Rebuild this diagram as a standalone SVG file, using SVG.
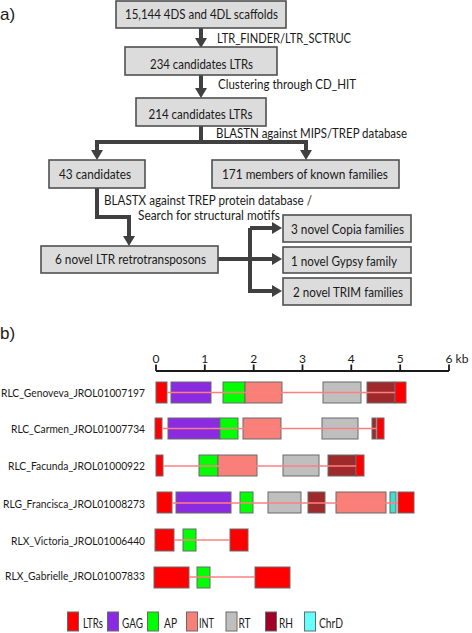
<svg xmlns="http://www.w3.org/2000/svg" width="472" height="633" viewBox="0 0 472 633">
<style>
text{font-family:Lato,"Liberation Sans",sans-serif;fill:#1a1a1a}
.box{fill:#dcdcdc;stroke:#505050;stroke-width:1.6}
.bt{font-size:12.5px;text-anchor:middle;dominant-baseline:central}
.lab{font-size:12.5px;dominant-baseline:central}
.lg{font-size:13px;dominant-baseline:central}
.con{fill:none;stroke:#404040;stroke-width:4;stroke-linejoin:miter}
.hd{font-size:17px;font-family:"Liberation Sans",Arial,sans-serif;dominant-baseline:central}
.rl{font-size:12px;text-anchor:end;dominant-baseline:central}
.tk{font-size:12px;text-anchor:middle;dominant-baseline:central}
.el rect{stroke:#6a6a6a;stroke-width:1}
.ltr{fill:#ff0000}.gag{fill:#8a2be2}.ap{fill:#00ff00}.int{fill:#f88078}.rt{fill:#bfbfbf}.rh{fill:#9e2a2b}.chr{fill:#40e0d0}
.bb{stroke:#ff7f7f;stroke-width:1.4}
</style>
<defs>
<marker id="ah" markerUnits="userSpaceOnUse" markerWidth="10" markerHeight="12" refX="0" refY="6" orient="auto" viewBox="0 0 10 12">
<path d="M0,0 L10,6 L0,12 z" fill="#404040"/>
</marker>
</defs>
<text class="hd" x="0" y="14">a)</text>
<g id="connectors">
<path class="con" d="M201,28 V38" marker-end="url(#ah)"/>
<path class="con" d="M201,75 V88" marker-end="url(#ah)"/>
<path class="con" d="M201,126 V142 H97 V150" marker-end="url(#ah)"/>
<path class="con" d="M201,142 H306 V150" marker-end="url(#ah)"/>
<path class="con" d="M97,188 V217 H129 V236" marker-end="url(#ah)"/>
<path class="con" d="M218,259 H250"/>
<path class="con" d="M250,228 V293"/>
<path class="con" d="M250,228 H272" marker-end="url(#ah)"/>
<path class="con" d="M250,259 H272" marker-end="url(#ah)"/>
<path class="con" d="M250,291 H272" marker-end="url(#ah)"/>
<text class="lab" x="217" y="38" textLength="134" lengthAdjust="spacingAndGlyphs">LTR_FINDER/LTR_SCTRUC</text>
<text class="lab" x="218" y="84" textLength="138" lengthAdjust="spacingAndGlyphs">Clustering through CD_HIT</text>
<text class="lab" x="216" y="133" textLength="191" lengthAdjust="spacingAndGlyphs">BLASTN against MIPS/TREP database</text>
<text class="lab" x="104" y="200" textLength="208" lengthAdjust="spacingAndGlyphs">BLASTX against TREP protein database /</text>
<text class="lab" x="138" y="215" textLength="142" lengthAdjust="spacingAndGlyphs">Search for structural motifs</text>
</g>
<g id="n1"><rect class="box" x="116" y="1" width="170" height="27"/><text class="bt" x="201.5" y="14.5" textLength="153" lengthAdjust="spacingAndGlyphs">15,144 4DS and 4DL scaffolds</text></g>
<g id="n2"><rect class="box" x="125" y="47" width="152" height="28"/><text class="bt" x="201.5" y="64" textLength="103" lengthAdjust="spacingAndGlyphs">234 candidates LTRs</text></g>
<g id="n3"><rect class="box" x="136" y="98" width="130" height="28"/><text class="bt" x="200.5" y="114" textLength="104" lengthAdjust="spacingAndGlyphs">214 candidates LTRs</text></g>
<g id="n4"><rect class="box" x="49" y="160" width="96" height="28"/><text class="bt" x="95" y="174" textLength="72" lengthAdjust="spacingAndGlyphs">43 candidates</text></g>
<g id="n5"><rect class="box" x="212" y="160" width="187" height="28"/><text class="bt" x="305" y="174" textLength="166" lengthAdjust="spacingAndGlyphs">171 members of known families</text></g>
<g id="n6"><rect class="box" x="41" y="246" width="177" height="27"/><text class="bt" x="130.5" y="259.5" textLength="151" lengthAdjust="spacingAndGlyphs">6 novel LTR retrotransposons</text></g>
<g id="n7"><rect class="box" x="283" y="215" width="128" height="27"/><text class="bt" x="347.5" y="229" textLength="113" lengthAdjust="spacingAndGlyphs">3 novel Copia families</text></g>
<g id="n8"><rect class="box" x="283" y="247" width="128" height="26"/><text class="bt" x="344" y="261" textLength="106" lengthAdjust="spacingAndGlyphs">1 novel Gypsy family</text></g>
<g id="n9"><rect class="box" x="283" y="278" width="128" height="27"/><text class="bt" x="348" y="292" textLength="110" lengthAdjust="spacingAndGlyphs">2 novel TRIM families</text></g>

<text class="hd" x="0" y="333">b)</text>
<g id="scale">
<path d="M156,371 H449 M156,364.5 V371 M204.8,364.5 V371 M253.7,364.5 V371 M302.5,364.5 V371 M351.3,364.5 V371 M400.2,364.5 V371 M449,364.5 V371" stroke="#1a1a1a" stroke-width="1.8" fill="none"/>
<text class="tk" x="156" y="358">0</text><text class="tk" x="204.8" y="358">1</text><text class="tk" x="253.7" y="358">2</text><text class="tk" x="302.5" y="358">3</text><text class="tk" x="351.3" y="358">4</text><text class="tk" x="400.2" y="358">5</text><text class="tk" x="449" y="358">6</text>
<text class="tk" x="462" y="358">kb</text>
</g>
<g id="row1" class="el">
<text class="rl" x="145" y="392.5" textLength="144" lengthAdjust="spacingAndGlyphs">RLC_Genoveva_JROL01007197</text>
<rect class="gag" x="171" y="382" width="40" height="21"/>
<rect class="ap" x="223" y="382" width="22" height="21"/>
<rect class="int" x="245" y="382" width="37" height="21"/>
<rect class="rt" x="323" y="382" width="38" height="21"/>
<rect class="rh" x="367" y="382" width="28" height="21"/>
<rect class="ltr" x="156" y="382" width="11" height="21"/>
<rect class="ltr" x="395" y="382" width="11" height="21"/>
<line class="bb" x1="167" y1="392.5" x2="395" y2="392.5"/>
</g>
<g id="row2" class="el">
<text class="rl" x="145" y="428.5" textLength="134" lengthAdjust="spacingAndGlyphs">RLC_Carmen_JROL01007734</text>
<rect class="gag" x="168" y="418" width="52" height="21"/>
<rect class="ap" x="220" y="418" width="18" height="21"/>
<rect class="int" x="243" y="418" width="38" height="21"/>
<rect class="rt" x="322" y="418" width="36" height="21"/>
<rect class="rh" x="372" y="418" width="4" height="21"/>
<rect class="ltr" x="155" y="418" width="7" height="21"/>
<rect class="ltr" x="377" y="418" width="7" height="21"/>
<line class="bb" x1="162" y1="428.5" x2="377" y2="428.5"/>
</g>
<g id="row3" class="el">
<text class="rl" x="145" y="465.5" textLength="137" lengthAdjust="spacingAndGlyphs">RLC_Facunda_JROL01000922</text>
<rect class="ap" x="199" y="455" width="19" height="21"/>
<rect class="int" x="218" y="455" width="39" height="21"/>
<rect class="rt" x="283" y="455" width="36" height="21"/>
<rect class="rh" x="328" y="455" width="28" height="21"/>
<rect class="ltr" x="156" y="455" width="7" height="21"/>
<rect class="ltr" x="356" y="455" width="8" height="21"/>
<line class="bb" x1="163" y1="466" x2="356" y2="466"/>
</g>
<g id="row4" class="el">
<text class="rl" x="145" y="503" textLength="142" lengthAdjust="spacingAndGlyphs">RLG_Francisca_JROL01008273</text>
<rect class="gag" x="176" y="492" width="55" height="21"/>
<rect class="ap" x="240" y="492" width="13" height="21"/>
<rect class="rt" x="268" y="492" width="33" height="21"/>
<rect class="rh" x="308" y="492" width="17" height="21"/>
<rect class="int" x="336" y="492" width="50" height="21"/>
<rect class="chr" x="390" y="492" width="6" height="21"/>
<rect class="ltr" x="157" y="492" width="15" height="21"/>
<rect class="ltr" x="398" y="492" width="16" height="21"/>
<line class="bb" x1="172" y1="503" x2="398" y2="503"/>
</g>
<g id="row5" class="el">
<text class="rl" x="145" y="540" textLength="134" lengthAdjust="spacingAndGlyphs">RLX_Victoria_JROL01006440</text>
<rect class="ap" x="183" y="529" width="13" height="22"/>
<rect class="ltr" x="155" y="529" width="19" height="22"/>
<rect class="ltr" x="230" y="529" width="18" height="22"/>
<line class="bb" x1="174" y1="540" x2="230" y2="540"/>
</g>
<g id="row6" class="el">
<text class="rl" x="145" y="575" textLength="140" lengthAdjust="spacingAndGlyphs">RLX_Gabrielle_JROL01007833</text>
<rect class="ap" x="197" y="567" width="13" height="21"/>
<rect class="ltr" x="154" y="567" width="35" height="21"/>
<rect class="ltr" x="255" y="567" width="35" height="21"/>
<line class="bb" x1="189" y1="577" x2="255" y2="577"/>
</g>
<g id="legend" class="el">
<rect class="ltr" x="67.5" y="612" width="11" height="19"/><text class="lg" x="83" y="623" textLength="20" lengthAdjust="spacingAndGlyphs">LTRs</text>
<rect class="gag" x="107.5" y="612" width="11" height="19"/><text class="lg" x="122" y="623" textLength="21" lengthAdjust="spacingAndGlyphs">GAG</text>
<rect class="ap" x="147.5" y="612" width="11" height="19"/><text class="lg" x="164" y="623" textLength="13" lengthAdjust="spacingAndGlyphs">AP</text>
<rect class="int" x="186.5" y="612" width="11" height="19"/><text class="lg" x="199" y="623" textLength="15" lengthAdjust="spacingAndGlyphs">INT</text>
<rect class="rt" x="226" y="612" width="11" height="19"/><text class="lg" x="238.5" y="623" textLength="12" lengthAdjust="spacingAndGlyphs">RT</text>
<rect class="rh" x="265.5" y="612" width="11" height="19" style="fill:#a00028"/><text class="lg" x="279" y="623" textLength="14" lengthAdjust="spacingAndGlyphs">RH</text>
<rect class="chr" x="304.5" y="612" width="11" height="19" style="fill:#66ffff"/><text class="lg" x="319" y="623" textLength="24" lengthAdjust="spacingAndGlyphs">ChrD</text>
</g>
</svg>
